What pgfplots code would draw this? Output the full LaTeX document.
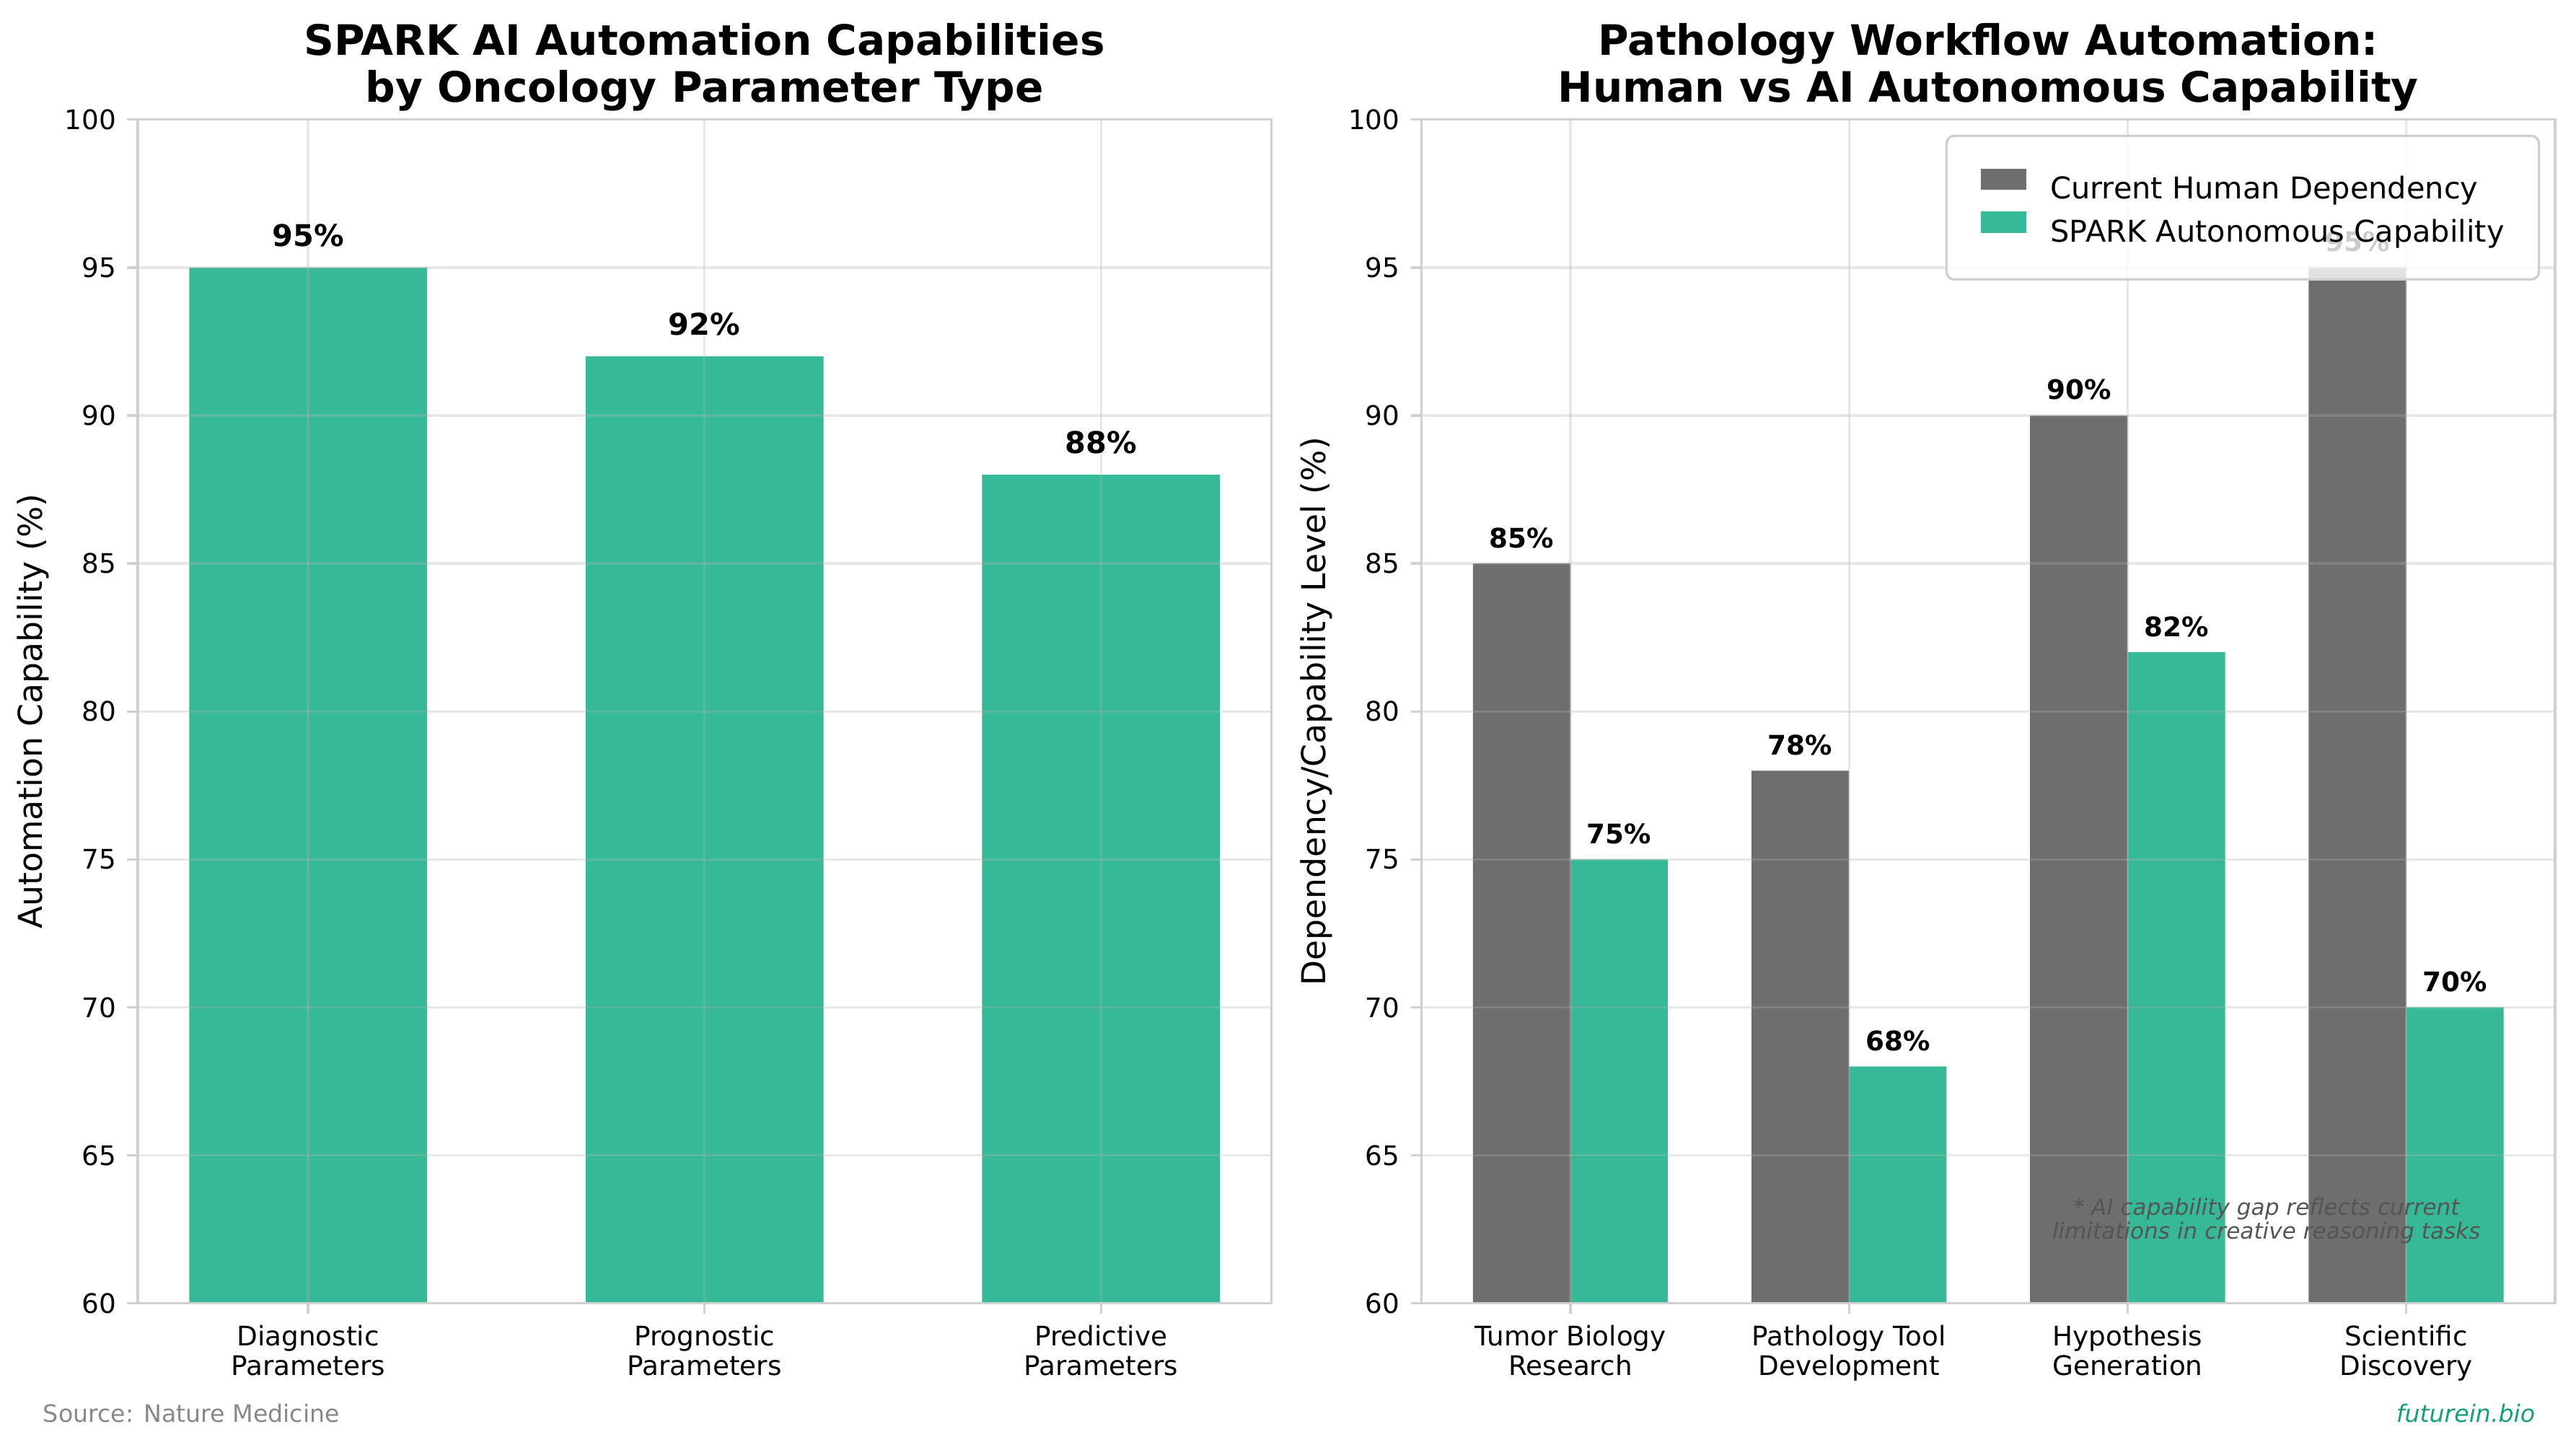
\documentclass[border=0pt]{standalone}
\usepackage{fontspec}
\setmainfont{DejaVu Sans}
\usepackage{pgfplots}
\pgfplotsset{compat=1.18}
\definecolor{sgreen}{RGB}{54,185,150}
\definecolor{sgray}{RGB}{110,110,110}
\definecolor{spinec}{RGB}{208,208,208}
\definecolor{gridc}{RGB}{176,176,176}
\definecolor{linkc}{RGB}{22,160,120}
\definecolor{srcc}{RGB}{136,136,136}
\definecolor{notec}{RGB}{85,85,85}
\pgfplotsset{
  base/.style={
    scale only axis, width=377.2bp, height=393.8bp,
    anchor=south west,
    ymin=60, ymax=100, ytick={60,65,70,75,80,85,90,95,100},
    enlargelimits=false,
    axis on top,
    axis line style={spinec, line width=0.8bp},
    major tick style={spinec, line width=0.8bp},
    major tick length=3.5bp,
    tick align=outside,
    xtick pos=left, ytick pos=left,
    xmajorgrids=true, ymajorgrids=true,
    major grid style={gridc, opacity=0.3, line width=0.8bp},
    tick label style={font=\fontsize{9}{10.1}\selectfont, text=black},
    /pgf/number format/assume math mode=true,
    xticklabel style={align=center, anchor=north, inner sep=0pt},
    yticklabel style={anchor=east, inner sep=0pt},
    xticklabel shift=3.5bp, yticklabel shift=3.5bp,
    title style={at={(0.5,1)}, anchor=south, inner sep=0pt, yshift=-3.3bp, align=center, font=\bfseries\fontsize{14}{15.6}\selectfont},
    point meta=y,
  },
}
\begin{document}
\begin{tikzpicture}
\useasboundingbox (0,0) rectangle (857.04bp,482.4bp);
% Left chart
\begin{axis}[base, at={(45.8bp,48.8bp)},
  xmin=-0.43, xmax=2.43, xtick={0,1,2},
  xticklabels={{Diagnostic\\Parameters},{Prognostic\\Parameters},{Predictive\\Parameters}},
  title={SPARK AI Automation Capabilities\\by Oncology Parameter Type},
  every node near coord/.append style={font=\bfseries\fontsize{10}{12}\selectfont, text=black, anchor=base, inner sep=0pt, yshift=7bp},
]
\addplot[ybar, bar width=0.6, bar shift=0pt, fill=sgreen, draw=none,
  nodes near coords={\pgfmathprintnumber{\pgfplotspointmeta}\%}]
  coordinates {(0,95) (1,92) (2,88)};
\end{axis}
% Right chart
\begin{axis}[base, at={(472.9bp,48.8bp)},
  xmin=-0.535, xmax=3.535, xtick={0,1,2,3},
  xticklabels={{Tumor Biology\\Research},{Pathology Tool\\Development},{Hypothesis\\Generation},{Scientific\\Discovery}},
  title={Pathology Workflow Automation:\\Human vs AI Autonomous Capability},
  every node near coord/.append style={font=\bfseries\fontsize{9}{11}\selectfont, text=black, anchor=base, inner sep=0pt, yshift=5.3bp},
  legend style={at={(1,1)}, anchor=north east, xshift=-5bp, yshift=-5bp,
    draw=spinec, line width=0.8bp, rounded corners=2.5bp, fill=white, fill opacity=0.8, text opacity=1,
    font=\fontsize{10}{12}\selectfont, inner xsep=11.5bp, inner ysep=11bp, row sep=2.7bp, column sep=8bp,
    nodes={inner sep=0pt}},
  legend cell align=left,
]
\addplot[ybar, bar width=0.35, bar shift=0pt, fill=sgray, draw=none,
  nodes near coords={\pgfmathprintnumber{\pgfplotspointmeta}\%},
  legend image code/.code={\fill[sgray, fill opacity=1, sharp corners] (0bp,0bp) rectangle (15bp,7bp);}]
  coordinates {(-0.175,85) (0.825,78) (1.825,90) (2.825,95)};
\addlegendentry{Current Human Dependency}
\addplot[ybar, bar width=0.35, bar shift=0pt, fill=sgreen, draw=none,
  nodes near coords={\pgfmathprintnumber{\pgfplotspointmeta}\%},
  legend image code/.code={\fill[sgreen, fill opacity=1, sharp corners] (0bp,0bp) rectangle (15bp,7bp);}]
  coordinates {(0.175,75) (1.175,68) (2.175,82) (3.175,70)};
\addlegendentry{SPARK Autonomous Capability}
\end{axis}
% axis labels
\node[rotate=90, font=\fontsize{11}{13}\selectfont] at (11bp,245.7bp) {Automation Capability (\%)};
\node[rotate=90, font=\fontsize{11}{13}\selectfont] at (437.9bp,245.7bp) {Dependency/Capability Level (\%)};
% note and footer
\node[align=center, font=\itshape\fontsize{7.5}{8}\selectfont, text=notec] at (754bp,76.3bp) {* AI capability gap reflects current\\limitations in creative reasoning tasks};
\node[anchor=base west, inner sep=0pt, font=\fontsize{8}{9.6}\selectfont, text=srcc] at (14.2bp,9.2bp) {Source: Nature Medicine};
\node[anchor=base east, inner sep=0pt, font=\itshape\fontsize{8}{9.6}\selectfont, text=linkc] at (843.6bp,9.2bp) {futurein.bio};
\end{tikzpicture}
\end{document}
